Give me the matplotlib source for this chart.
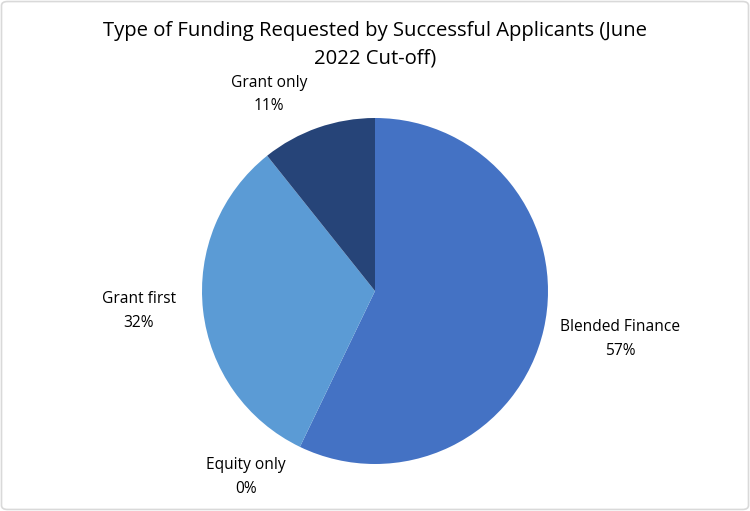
import matplotlib
matplotlib.use("Agg")
import matplotlib.pyplot as plt
import numpy as np
from matplotlib.patches import FancyBboxPatch

categories = ["Blended Finance", "Equity only", "Grant first", "Grant only"]
values = [16, 0, 9, 3]
colors = ["#4472C4", "#A5A5A5", "#5B9BD5", "#264478"]
title = "Type of Funding Requested by Successful Applicants (June\n2022 Cut-off)"

FONT = "Open Sans"
W, H = 750, 511
fig = plt.figure(figsize=(W / 100, H / 100), dpi=100)
ax = fig.add_axes([0, 0, 1, 1])
R = 173.0
cx, cy = 375.0, 511 - 291.0

wedges, _ = ax.pie(values, colors=colors, startangle=90, counterclock=False,
                   radius=1.0, wedgeprops=dict(linewidth=0))
ax.set_xlim(-cx / R, (W - cx) / R)
ax.set_ylim(-cy / R, (H - cy) / R)
ax.set_aspect("auto")
ax.axis("off")

total = sum(values)
# label placement: (distance multiplier, angle offset in degrees)
place = {
    "Blended Finance": (1.443, 1.8),
    "Equity only": (1.31, -9.0),
    "Grant first": (1.37, -1.5),
    "Grant only": (1.29, 9.0),
}
for w, cat, v in zip(wedges, categories, values):
    mid = np.deg2rad((w.theta1 + w.theta2) / 2 + place[cat][1])
    d = place[cat][0]
    pct = f"{round(100 * v / total)}%"
    ax.text(d * np.cos(mid), d * np.sin(mid), f"{cat}\n{pct}", ha="center", va="center",
            fontsize=11.2, family=FONT, color="#000000", linespacing=1.65)

fig.text(0.5, 1 - 44.5 / H, title, ha="center", va="center", fontsize=14.6,
         family=FONT, color="#000000", linespacing=1.5)

border = FancyBboxPatch((0.002, 0.003), 0.996, 0.994, boxstyle="round,pad=0,rounding_size=0.008",
                        transform=fig.transFigure, fill=False, edgecolor="#D9D9D9", linewidth=1.2)
fig.patches.append(border)

fig.savefig("out.png", dpi=100, facecolor="white")
